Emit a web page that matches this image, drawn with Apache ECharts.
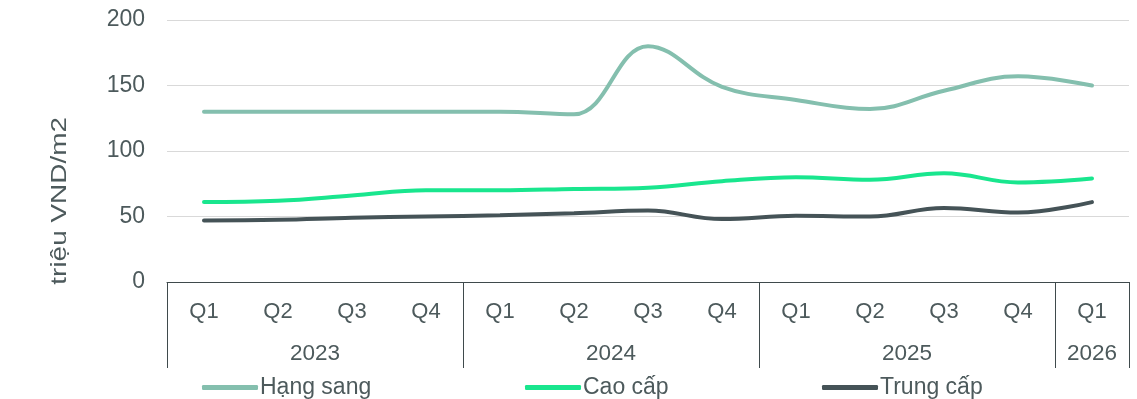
<!DOCTYPE html>
<html>
<head>
<meta charset="utf-8">
<script src="https://cdn.jsdelivr.net/npm/echarts@6/dist/echarts.min.js"></script>
<style>
  html, body { margin: 0; padding: 0; background: #fff; }
  #chart { width: 1137px; height: 399px; }
</style>
</head>
<body>
<div id="chart"></div>
<script>
// quý theo năm
const quarters = ["Q1", "Q2", "Q3", "Q4", "Q1", "Q2", "Q3", "Q4", "Q1", "Q2", "Q3", "Q4", "Q1"];
const years = ["2023", "2024", "2025", "2026"];
// vị trí giữa nhóm năm và ranh giới nhóm (đơn vị: số quý)
const yearCenters = [2, 6, 10, 12.5];
const yearBounds = [0, 4, 8, 12, 13];

const seriesNames = ["Hạng sang", "Cao cấp", "Trung cấp"];
const hangSang = [130, 130, 130, 130, 130, 128, 180, 149, 139, 132, 146, 157, 150];
const caoCap = [61, 62, 66, 70, 70, 71, 72, 77, 80, 78, 83, 76, 79];
const trungCap = [47, 47.5, 49, 50, 51, 52.5, 54.5, 48, 50.5, 50, 56.5, 53, 61];

const textColor = "#4d5a5c";
const font = "Liberation Sans";
const legendLeft = [197, 520, 817];

let myChart = echarts.init(document.getElementById("chart"));

function lineSeries(name, data, color) {
  return {
    name: name,
    type: "line",
    data: data,
    smooth: 0.4,
    showSymbol: false,
    lineStyle: { width: 4, color: color, cap: "round" },
    itemStyle: { color: color }
  };
}

// mỗi mục chú thích đặt riêng cho đúng vị trí
let legends = seriesNames.map((n, i) => ({
  left: legendLeft[i],
  top: 371,
  itemWidth: 56,
  itemHeight: 5,
  icon: "roundRect",
  textStyle: { fontSize: 23, color: textColor, fontFamily: font, padding: [0, 0, 0, -3] },
  data: [n]
}));

myChart.setOption({
  animation: false,
  textStyle: { fontFamily: font },
  grid: { left: 167, right: 8, top: 20, bottom: 117 },
  legend: legends,
  // tên trục tung, đặt lệch xuống như bản gốc
  graphic: [{
    type: "text",
    left: 49,
    top: 117,
    rotation: Math.PI / 2,
    style: {
      text: "triệu VND/m2",
      fontSize: 22,
      fontFamily: font,
      fill: textColor
    },
    scaleX: 1.27
  }],
  xAxis: [
    {
      type: "category",
      data: quarters,
      position: "bottom",
      axisLine: { lineStyle: { color: "#3f4a4c", width: 1 } },
      axisTick: { show: false },
      axisLabel: { color: textColor, fontSize: 22, margin: 19, interval: 0 }
    },
    {
      type: "value",
      min: 0,
      max: 13,
      position: "bottom",
      offset: 0,
      axisLine: { show: false },
      splitLine: { show: false },
      axisTick: {
        show: true,
        customValues: yearBounds,
        length: 86,
        lineStyle: { color: "#3f4a4c", width: 1 }
      },
      axisLabel: {
        customValues: yearCenters,
        color: textColor,
        fontSize: 22.5,
        margin: 60,
        formatter: function (v) {
          return years[yearCenters.indexOf(v)];
        }
      }
    }
  ],
  yAxis: {
    type: "value",
    min: 0,
    max: 200,
    interval: 50,
    axisLine: { show: false },
    axisTick: { show: false },
    axisLabel: { color: textColor, fontSize: 23, margin: 22 },
    splitLine: { lineStyle: { color: "#d9d9d9", width: 1 } }
  },
  series: [
    lineSeries("Hạng sang", hangSang, "#84bfae"),
    lineSeries("Cao cấp", caoCap, "#19e68e"),
    lineSeries("Trung cấp", trungCap, "#455357")
  ]
});
</script>
</body>
</html>
